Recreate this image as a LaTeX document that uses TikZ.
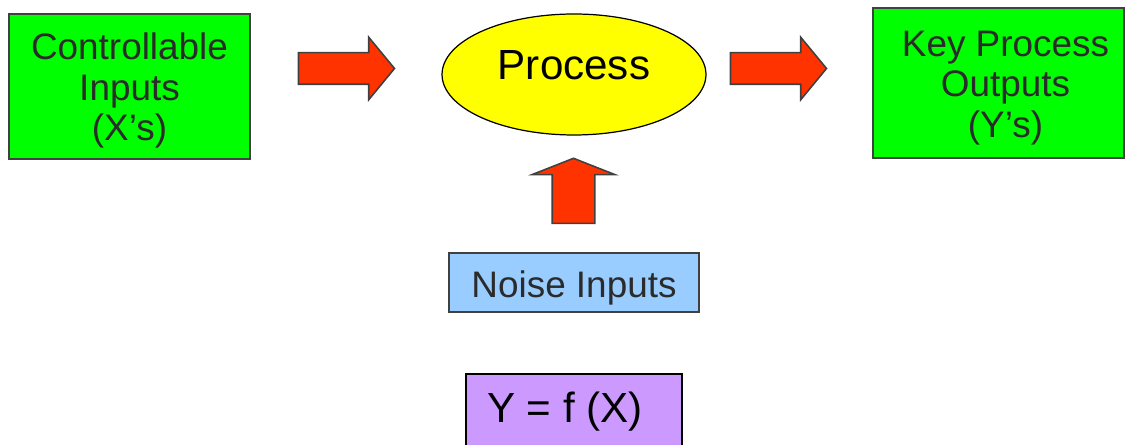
\documentclass[tikz,border=0pt]{standalone}
\usepackage{fontspec}
\setmainfont{Liberation Sans}
\usetikzlibrary{shapes.geometric,shapes.arrows}

\definecolor{boxgreen}{HTML}{00FF00}
\definecolor{procyellow}{HTML}{FFFF00}
\definecolor{arrowred}{HTML}{FF3300}
\definecolor{noiseblue}{HTML}{99CCFF}
\definecolor{funcpurple}{HTML}{CC99FF}
\definecolor{edgegray}{HTML}{404040}
\definecolor{textgray}{HTML}{2B2B2B}

\tikzstyle{iobox} = [rectangle, draw=edgegray, line width=1.1pt, fill=boxgreen,
  text=textgray, align=center, font=\fontsize{21}{23}\selectfont, inner sep=0pt]
\tikzstyle{bigarrow} = [single arrow, draw=edgegray, line width=0.9pt, fill=arrowred,
  inner xsep=0pt, inner ysep=0.3cm, minimum width=0pt, minimum height=1.92cm,
  single arrow head extend=0.31cm, single arrow tip angle=101]

\begin{document}
\begin{tikzpicture}[x=0.02cm, y=-0.02cm]
    \clip (0,0) rectangle (1126,445);
    \node[iobox, minimum width=4.82cm, minimum height=2.9cm] (ctrl) at (129.5,86.5)
      {\rule{0pt}{0.7cm}Controllable\\Inputs\\(X’s)};
    \node[bigarrow] (arrin) at (340,68.5) {};
    \node[ellipse, draw=black, line width=0.7pt, fill=procyellow,
      minimum width=5.28cm, minimum height=2.42cm, inner sep=0pt,
      font=\fontsize{24}{28}\selectfont, text height=0.72cm, text depth=0.5cm]
      (proc) at (574,74.5) {Process};
    \node[bigarrow] (arrout) at (772,68.5) {};
    \node[iobox, minimum width=5.02cm, minimum height=3cm] (outs) at (998.5,83)
      {\rule{0pt}{0.7cm}\hspace*{0.28cm}Key Process\\\hspace*{0.28cm}Outputs\\\hspace*{0.28cm}(Y’s)};
    % noise enters from below
    \node[bigarrow, rotate=90, inner ysep=0.41cm, minimum height=1.3cm,
      single arrow head extend=0.4cm, single arrow tip angle=137]
      (arrnoise) at (573.5,195) {};
    \node[rectangle, draw=edgegray, line width=1.1pt, fill=noiseblue, text=textgray,
      font=\fontsize{21}{23}\selectfont, minimum width=5cm, minimum height=1.14cm,
      inner sep=0pt, text height=0.9cm, text depth=0.28cm]
      (noise) at (574,282.5) {Noise Inputs};
    \node[rectangle, draw=black, line width=1.1pt, fill=funcpurple,
      font=\fontsize{24}{28}\selectfont, minimum width=4.32cm, minimum height=1.92cm,
      inner sep=0pt, text height=0.6cm, text depth=0.56cm]
      (func) at (574,422) {Y = f (X)\kern0.36cm};
  \end{tikzpicture}
\end{document}
